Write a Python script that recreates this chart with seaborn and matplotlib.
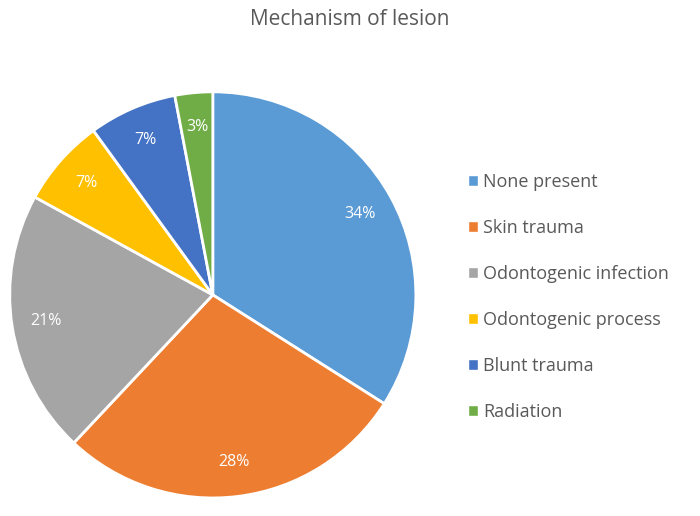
import seaborn as sns
import matplotlib
matplotlib.use('Agg')
import matplotlib.pyplot as plt
from matplotlib.patches import Patch

# data
labels = ["None present", "Skin trauma", "Odontogenic infection",
          "Odontogenic process", "Blunt trauma", "Radiation"]
values = [34, 28, 21, 7, 7, 3]
colors = ["#5B9BD5", "#ED7D31", "#A5A5A5", "#FFC000", "#4472C4", "#70AD47"]

sns.set_theme(style="white")
plt.rcParams['font.family'] = ['Open Sans', 'DejaVu Sans']

fig = plt.figure(figsize=(7, 5.16), dpi=100)
ax = fig.add_axes([0.011, 0.031, 0.586, 0.795])
wedges, texts, autotexts = ax.pie(
    values, colors=colors, startangle=90, counterclock=False, radius=1,
    autopct=lambda p: f"{p:.0f}%", pctdistance=0.83,
    wedgeprops=dict(edgecolor="white", linewidth=2),
    textprops=dict(color="white", fontsize=11.5))
ax.set_xlim(-1.01, 1.01)
ax.set_ylim(-1.01, 1.01)
ax.set_aspect('equal')

fig.text(0.5, 0.962, "Mechanism of lesion", ha="center", va="center",
         fontsize=15, color="#595959")

handles = [Patch(facecolor=c, label=l) for c, l in zip(colors, labels)]
fig.legend(handles=handles, loc="center left", bbox_to_anchor=(0.645, 0.424),
           frameon=False, fontsize=13, labelcolor="#595959",
           handlelength=0.55, handleheight=0.55, handletextpad=0.3,
           labelspacing=1.55)

fig.savefig("out.png", dpi=100)
